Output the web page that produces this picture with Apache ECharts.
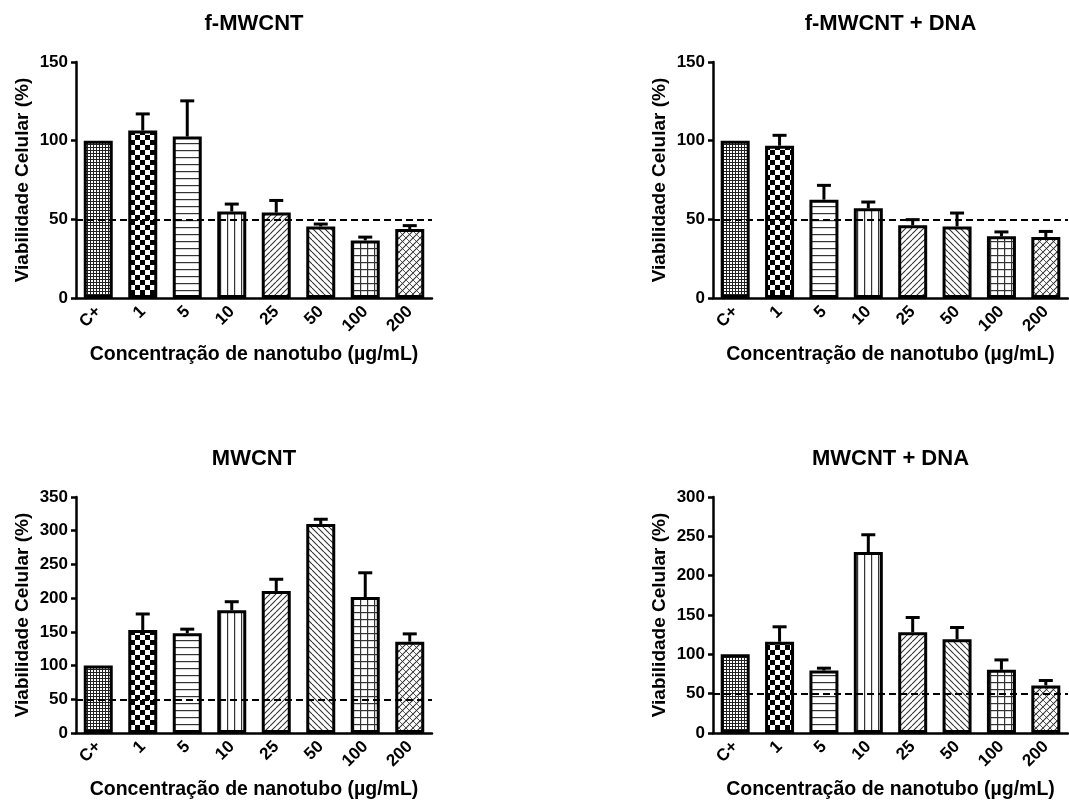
<!DOCTYPE html>
<html>
<head>
<meta charset="utf-8">
<title>Viabilidade Celular</title>
<script src="https://cdn.jsdelivr.net/npm/echarts@6/dist/echarts.min.js"></script>
<style>
  html, body { margin: 0; padding: 0; background: #fff; }
  #chart { width: 1069px; height: 807px; }
</style>
</head>
<body>
<div id="chart"></div>
<script>
// Concentrations tested (µg/mL); C+ is the positive control
const categories = ['C+', '1', '5', '10', '25', '50', '100', '200'];

// Mean cell viability (%) and upper error (SEM) per concentration
const fMWCNT = [100, 106.4, 102.6, 55.0, 54.3, 45.5, 36.6, 43.8];
const fMWCNT_err = [0, 10.6, 22.7, 4.7, 7.7, 1.5, 2.1, 2.2];

const fMWCNT_DNA = [100, 96.8, 62.5, 57.0, 46.2, 45.5, 39.2, 38.8];
const fMWCNT_DNA_err = [0, 6.6, 9.1, 4.0, 3.6, 8.5, 2.8, 3.5];

const MWCNT = [100, 152.8, 148.0, 182.0, 210.5, 310.0, 201.6, 135.5];
const MWCNT_err = [0, 23.7, 6.0, 12.7, 17.5, 7.0, 36.0, 11.5];

const MWCNT_DNA = [100, 116.0, 79.3, 230.0, 128.0, 119.3, 80.3, 60.4];
const MWCNT_DNA_err = [0, 19.0, 3.1, 22.0, 18.8, 14.8, 12.6, 6.3];

// Panel titles and y-axis maxima
const panelTitles = ['f-MWCNT', 'f-MWCNT + DNA', 'MWCNT', 'MWCNT + DNA'];
const yMaxima = [150, 150, 350, 300];
const threshold = 50;

const FONT = "'Liberation Sans', Arial, sans-serif";
const yName = 'Viabilidade Celular (%)';
const xName = 'Concentração de nanotubo (µg/mL)';

// ---- hatch fills for the bars ----
function tile(size, draw) {
  const c = document.createElement('canvas');
  c.width = size; c.height = size;
  const g = c.getContext('2d');
  g.fillStyle = '#fff';
  g.fillRect(0, 0, size, size);
  draw(g, size);
  return { image: c, repeat: 'repeat' };
}
function diag(g, s, up) {
  g.beginPath();
  for (let k = -s; k <= s; k += s) {
    if (up) { g.moveTo(k, s); g.lineTo(k + s, 0); }
    else { g.moveTo(k, 0); g.lineTo(k + s, s); }
  }
  g.stroke();
}
const fills = [
  // fine check
  tile(3, (g) => { g.fillStyle = '#222'; g.fillRect(0, 0, 3, 3); g.fillStyle = '#fff'; g.fillRect(1, 1, 2, 2); }),
  // coarse checkerboard
  tile(10, (g) => { g.fillStyle = '#000'; g.fillRect(0, 0, 5, 5); g.fillRect(5, 5, 5, 5); }),
  // horizontal lines
  tile(7, (g) => { g.fillStyle = '#333'; g.fillRect(0, 3, 7, 1.2); }),
  // vertical lines
  tile(7, (g) => { g.fillStyle = '#333'; g.fillRect(3, 0, 1.2, 7); }),
  // rising diagonals
  tile(6, (g, s) => { g.strokeStyle = '#333'; g.lineWidth = 1.1; diag(g, s, true); }),
  // falling diagonals
  tile(6, (g, s) => { g.strokeStyle = '#333'; g.lineWidth = 1.1; diag(g, s, false); }),
  // square grid
  tile(7, (g) => { g.fillStyle = '#333'; g.fillRect(0, 3, 7, 1.2); g.fillRect(3, 0, 1.2, 7); }),
  // diagonal cross-hatch
  tile(7, (g, s) => { g.strokeStyle = '#333'; g.lineWidth = 1.1; diag(g, s, true); g.lineWidth = 0.8; diag(g, s, false); })
];

// ---- layout of the four panels ----
const grids = [
  { left: 76, top: 62, width: 356, height: 236 },
  { left: 713, top: 62, width: 355, height: 236 },
  { left: 76, top: 497, width: 356, height: 236 },
  { left: 713, top: 497, width: 355, height: 236 }
];
const panelData = [
  [fMWCNT, fMWCNT_err],
  [fMWCNT_DNA, fMWCNT_DNA_err],
  [MWCNT, MWCNT_err],
  [MWCNT_DNA, MWCNT_DNA_err]
];

const xAxes = [], yAxes = [], series = [], graphics = [];

grids.forEach((gr, k) => {
  xAxes.push({
    type: 'category', gridIndex: k, data: categories,
    name: xName, nameLocation: 'middle', nameGap: 47,
    nameTextStyle: { fontFamily: FONT, fontWeight: 'bold', fontSize: 19.5, color: '#000' },
    axisLine: { lineStyle: { color: '#000', width: 2.5 } },
    axisTick: { alignWithLabel: true, length: 6, lineStyle: { color: '#000', width: 2.5 } },
    axisLabel: { interval: 0, rotate: 45, margin: 11, fontFamily: FONT, fontWeight: 'bold', fontSize: 17, color: '#000' }
  });
  yAxes.push({
    type: 'value', gridIndex: k, min: 0, max: yMaxima[k], interval: 50,
    name: yName, nameLocation: 'middle', nameGap: 44,
    nameTextStyle: { fontFamily: FONT, fontWeight: 'bold', fontSize: 19, color: '#000' },
    axisLine: { show: true, lineStyle: { color: '#000', width: 2.5 } },
    axisTick: { show: true, length: 5, lineStyle: { color: '#000', width: 2.5 } },
    axisLabel: { margin: 8, fontFamily: FONT, fontWeight: 'bold', fontSize: 17, color: '#000' },
    splitLine: { show: false }
  });

  const [vals, errs] = panelData[k];
  series.push({
    type: 'bar', xAxisIndex: k, yAxisIndex: k, barWidth: 29,
    data: vals.map((v, i) => ({ value: v, itemStyle: { color: fills[i] } })),
    itemStyle: { borderColor: '#000', borderWidth: 3 },
    markLine: {
      silent: true, symbol: 'none', label: { show: false },
      lineStyle: { type: [7, 4], color: '#000', width: 2.2 },
      data: [{ yAxis: threshold }]
    },
    z: 2
  });
  series.push({
    type: 'custom', xAxisIndex: k, yAxisIndex: k, z: 3,
    encode: { x: 0, y: 1 },
    data: vals.map((v, i) => [i, v, errs[i]]),
    renderItem: (params, api) => {
      const i = api.value(0), v = api.value(1), e = api.value(2);
      if (!e) return null;
      const p0 = api.coord([i, v]);
      const p1 = api.coord([i, v + e]);
      const hw = 7;
      return {
        type: 'group',
        children: [
          { type: 'line', shape: { x1: p0[0], y1: p0[1], x2: p1[0], y2: p1[1] }, style: { stroke: '#000', lineWidth: 3 } },
          { type: 'line', shape: { x1: p1[0] - hw, y1: p1[1], x2: p1[0] + hw, y2: p1[1] }, style: { stroke: '#000', lineWidth: 3 } }
        ]
      };
    }
  });

  graphics.push({
    type: 'text', x: gr.left + gr.width / 2, y: gr.top - 38,
    style: {
      text: panelTitles[k], fill: '#000', align: 'center', verticalAlign: 'middle',
      font: 'bold 22px ' + FONT
    }
  });
});

const chart = echarts.init(document.getElementById('chart'), null, { renderer: 'canvas' });
chart.setOption({
  animation: false,
  backgroundColor: '#fff',
  grid: grids,
  xAxis: xAxes,
  yAxis: yAxes,
  series: series,
  graphic: graphics
});
</script>
</body>
</html>
